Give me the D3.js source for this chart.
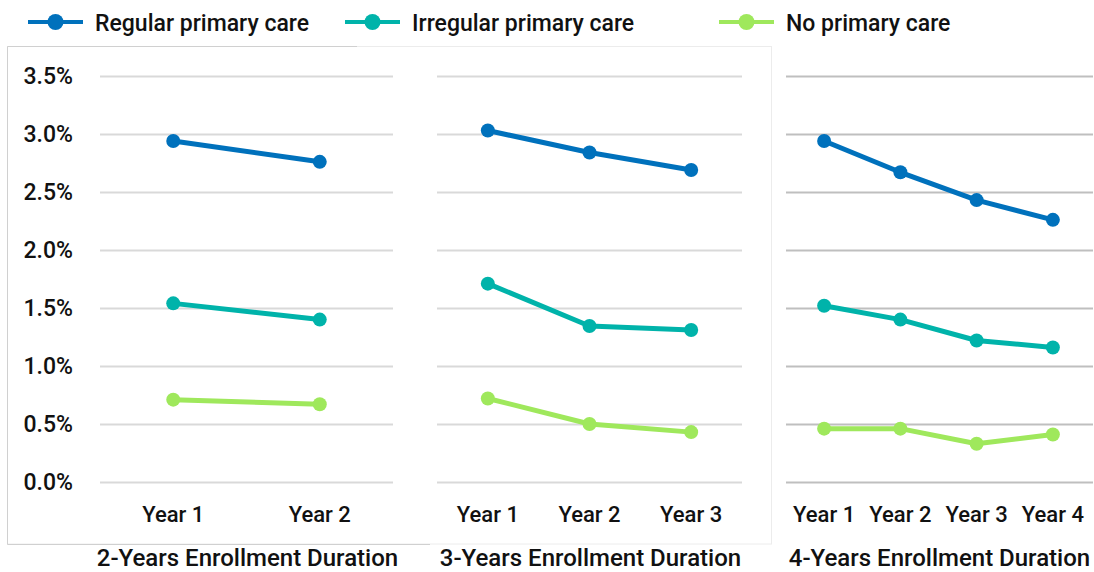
<!DOCTYPE html>
<html><head><meta charset="utf-8">
<script src="https://cdn.jsdelivr.net/npm/d3@7"></script>
<style>
html,body{margin:0;padding:0;background:#fff;}
svg text{font-family:"Roboto","Liberation Sans",sans-serif;font-weight:500;fill:#111;}
</style></head>
<body><svg id="c" width="1094" height="572"></svg>
<script>
const seriesNames = ["Regular primary care", "Irregular primary care", "No primary care"];
const seriesColors = ["#0071bc", "#00b3aa", "#9fe85c"];
const panelTitles = ["2-Years Enrollment Duration", "3-Years Enrollment Duration", "4-Years Enrollment Duration"];
const panel1Years = ["Year 1", "Year 2"];
const panel2Years = ["Year 1", "Year 2", "Year 3"];
const panel3Years = ["Year 1", "Year 2", "Year 3", "Year 4"];
const regular2 = [2.94, 2.76];
const irregular2 = [1.54, 1.40];
const none2 = [0.71, 0.67];
const regular3 = [3.03, 2.84, 2.69];
const irregular3 = [1.71, 1.345, 1.31];
const none3 = [0.72, 0.50, 0.43];
const regular4 = [2.94, 2.67, 2.43, 2.26];
const irregular4 = [1.52, 1.40, 1.22, 1.16];
const none4 = [0.46, 0.46, 0.33, 0.41];
const yTicks = [0, 0.5, 1.0, 1.5, 2.0, 2.5, 3.0, 3.5];

const svg = d3.select("#c");
const y = d3.scaleLinear().domain([0, 3.5]).range([482, 76]);

// frame around panels 1-2
svg.append("rect").attr("x", 7.5).attr("y", 46.5).attr("width", 764).attr("height", 497.5)
  .attr("fill", "none").attr("stroke", "#ececec");
svg.append("path").attr("d", "M357,46.5H7.5V544.5H430").attr("fill", "none").attr("stroke", "#d0d0d0");

const panels = [
  {cats: panel1Years, series: [regular2, irregular2, none2], range: [100, 393], grid: "#d9d9d9", title: panelTitles[0]},
  {cats: panel2Years, series: [regular3, irregular3, none3], range: [437, 742], grid: "#d9d9d9", title: panelTitles[1]},
  {cats: panel3Years, series: [regular4, irregular4, none4], range: [786, 1091], grid: "#bfbfbf", title: panelTitles[2], gridEnd: 1093}
];

// y axis labels
svg.append("g").selectAll("text").data(yTicks).join("text")
  .attr("x", 73).attr("y", d => y(d)).attr("dy", "0.36em")
  .attr("text-anchor", "end").style("font-size", "23px")
  .text(d => d3.format(".1f")(d) + "%");

panels.forEach(p => {
  const x = d3.scaleBand().domain(p.cats).range(p.range);
  const g = svg.append("g");
  g.selectAll("line.grid").data(yTicks).join("line")
    .attr("x1", p.range[0]).attr("x2", p.gridEnd || p.range[1])
    .attr("y1", d => Math.round(y(d)) + 0.5).attr("y2", d => Math.round(y(d)) + 0.5)
    .attr("stroke", p.grid).attr("stroke-width", 2);
  const line = d3.line().x((d, i) => x(p.cats[i]) + x.bandwidth() / 2).y(d => y(d));
  p.series.forEach((vals, si) => {
    g.append("path").datum(vals).attr("d", line).attr("fill", "none")
      .attr("stroke", seriesColors[si]).attr("stroke-width", 5).attr("stroke-linejoin", "round");
    g.selectAll(null).data(vals).join("circle")
      .attr("cx", (d, i) => x(p.cats[i]) + x.bandwidth() / 2).attr("cy", d => y(d)).attr("r", 7)
      .attr("fill", seriesColors[si]);
  });
  g.selectAll("text.cat").data(p.cats).join("text")
    .attr("x", d => x(d) + x.bandwidth() / 2).attr("y", 522)
    .attr("text-anchor", "middle").style("font-size", "22px").text(d => d);
  g.append("text").attr("x", (p.range[0] + p.range[1]) / 2 + 1).attr("y", 566)
    .attr("text-anchor", "middle").style("font-size", "24px").text(p.title);
});

// legend
const legendX = [28, 345, 719];
const leg = svg.append("g");
seriesNames.forEach((n, i) => {
  const lx = legendX[i];
  leg.append("line").attr("x1", lx).attr("x2", lx + 55).attr("y1", 22).attr("y2", 22)
    .attr("stroke", seriesColors[i]).attr("stroke-width", 4);
  leg.append("circle").attr("cx", lx + 27.5).attr("cy", 22).attr("r", 8).attr("fill", seriesColors[i]);
  leg.append("text").attr("x", lx + 67).attr("y", 31).style("font-size", "23px").text(n);
});
</script></body></html>
